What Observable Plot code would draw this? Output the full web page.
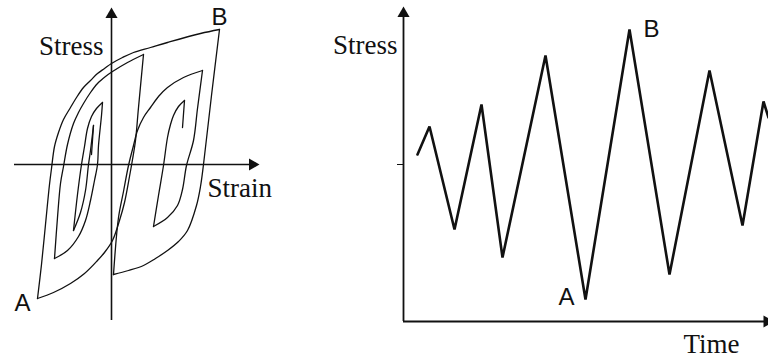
<!DOCTYPE html>
<html><head><meta charset="utf-8">
<script src="https://cdn.jsdelivr.net/npm/d3@7"></script>
<script src="https://cdn.jsdelivr.net/npm/@observablehq/plot@0.6"></script>
<style>
html,body{margin:0;padding:0;background:#fff;overflow:hidden}
#wrap{position:relative;width:768px;height:360px;overflow:hidden;background:#fff}
#left{position:absolute;left:0;top:0}
#right{position:absolute;left:300px;top:0}
</style></head>
<body><div id="wrap"><div id="left"></div><div id="right"></div></div>
<script>
// ---- Left panel: stress–strain hysteresis branches, [strain, stress] ----
const branchStart   = [[-20,10],[-18,39]];
const branchP1T1    = [[-18,39],[-21,14],[-23,0],[-26,-26],[-31,-48],[-38,-66]];
const branchT1P2    = [[-38,-66],[-34,-30],[-30,0],[-27,18],[-24,36],[-20,48],[-15,56],[-9,62]];
const branchP2T2    = [[-9,62],[-10,49],[-13,19],[-14,0],[-17,-16],[-21,-36],[-26,-56],[-33,-72],[-44,-86],[-57,-94]];
const branchT2P3    = [[-57,-94],[-54,-53],[-51,-19],[-48,-2],[-44,20],[-38,41],[-33,52],[-28,61],[-21,72],[-14,81],[-6,88],[1,93],[16,102],[32,110]];
const branchP3A     = [[32,110],[27,57],[24,24],[21,5],[18,-12],[13,-38],[8,-56],[1,-76],[-7,-88],[-14,-96],[-27,-109],[-41,-119],[-58,-128],[-74,-134]];
const branchAB      = [[-74,-134],[-70,-100],[-66,-60],[-62,-20],[-60,-4],[-57,18],[-53,32],[-48,45],[-41,57],[-35,67],[-28,77],[-21,84],[-14,91],[-7,96],[0,101],[11,107],[22,112],[39,117],[56,122],[89,131],[108,135]];
const branchBT4     = [[108,135],[100,69],[92,0],[89,-22],[85,-41],[76,-66],[67,-77],[56,-86],[44,-94],[32,-101],[17,-106],[2,-110]];
const branchT4P5    = [[2,-110],[7,-53],[12,-27],[17,-1],[22,19],[26,34],[32,47],[39,57],[47,68],[56,77],[72,87],[91,94]];
const branchP5T5    = [[91,94],[86,56],[82,24],[75,-1],[71,-25],[66,-41],[56,-53],[42,-62]];
const branchT5P6    = [[42,-62],[47,-31],[52,-1],[56,27],[59,40],[62,49],[67,58],[73,64]];
const branchP6End   = [[73,64],[71,37]];
const hystBranches = [branchStart, branchP1T1, branchT1P2, branchP2T2, branchT2P3, branchP3A,
                      branchAB, branchBT4, branchT4P5, branchP5T5, branchT5P6, branchP6End];

// ---- Right panel: stress history ----
const timeValues   = [14, 26, 51, 78, 99, 142, 182, 226, 266, 306, 339, 360, 365];
const stressValues = [10, 38, -65, 60, -93, 109, -135, 135, -110, 94, -61, 63, 47];

// ---- Labels ----
const leftAxisTitlesEnd   = [{x:-8, y:118, t:"Stress"}];
const leftAxisTitlesStart = [{x:96, y:-24, t:"Strain"}];
const leftPointLabels     = [{x:-97, y:-139, t:"A"}, {x:100, y:147, t:"B"}];
const rightAxisTitlesEnd   = [{x:-6, y:119, t:"Stress"}];
const rightAxisTitlesStart = [{x:280, y:-180, t:"Time"}];
const rightPointLabels     = [{x:155, y:-133, t:"A"}, {x:240, y:135, t:"B"}];

const SERIF = "'Liberation Serif','Times New Roman',Times,serif";
const SANS = "'Liberation Sans',Arial,Helvetica,sans-serif";

const hystRows = hystBranches.flatMap((b, i) => b.map(([strain, stress]) => ({strain, stress, branch: i})));
const histRows = timeValues.map((t, i) => ({t, s: stressValues[i]}));

function labelMarks(endTitles, startTitles, points) {
  return [
    Plot.text(endTitles, {x:"x", y:"y", text:"t", fontFamily: SERIF, fontSize: 27, textAnchor:"end", lineAnchor:"middle", fill:"#111"}),
    Plot.text(startTitles, {x:"x", y:"y", text:"t", fontFamily: SERIF, fontSize: 27, textAnchor:"start", lineAnchor:"middle", fill:"#111"}),
    Plot.text(points, {x:"x", y:"y", text:"t", fontFamily: SANS, fontSize: 24, textAnchor:"start", lineAnchor:"middle", fill:"#111"})
  ];
}

const left = Plot.plot({
  width: 300, height: 360,
  marginLeft: 11, marginRight: 29, marginTop: 4, marginBottom: 36,
  x: {domain: [-100, 160], axis: null},
  y: {domain: [-160, 160], axis: null},
  style: {background: "transparent", overflow: "visible"},
  marks: [
    Plot.ruleX([0], {y1: d => -156, y2: d => 150, stroke: "#111", strokeWidth: 1.6}),
    Plot.ruleY([0], {x1: d => -97, x2: d => 141, stroke: "#111", strokeWidth: 1.6}),
    Plot.dot([[0, 150]], {x: d => d[0], y: d => d[1], symbol: "triangle", r: 4.5, fill: "#111", stroke: null}),
    Plot.dot([[141, 0]], {x: d => d[0], y: d => d[1], symbol: "triangle", r: 4.5, fill: "#111", stroke: null, rotate: 90}),
    Plot.line(hystRows, {x: "strain", y: "stress", z: "branch", curve: "catmull-rom", stroke: "#111", strokeWidth: 1.3}),
    ...labelMarks(leftAxisTitlesEnd, leftAxisTitlesStart, leftPointLabels)
  ]
});
document.getElementById("left").appendChild(left);

const right = Plot.plot({
  width: 468, height: 360,
  marginLeft: 103, marginRight: 0, marginTop: 4, marginBottom: 36,
  x: {domain: [0, 365], axis: null},
  y: {domain: [-160, 160], axis: null},
  style: {background: "transparent", overflow: "visible"},
  marks: [
    Plot.ruleX([0], {y1: d => -157, y2: d => 151, stroke: "#111", strokeWidth: 1.8}),
    Plot.ruleY([-157], {x1: d => 0, x2: d => 363, stroke: "#111", strokeWidth: 1.8}),
    Plot.ruleY([0], {x1: d => -6, x2: d => 0, stroke: "#111", strokeWidth: 1}),
    Plot.dot([[0, 151]], {x: d => d[0], y: d => d[1], symbol: "triangle", r: 4.5, fill: "#111", stroke: null}),
    Plot.dot([[363.5, -157]], {x: d => d[0], y: d => d[1], symbol: "triangle", r: 4.5, fill: "#111", stroke: null, rotate: 90}),
    Plot.line(histRows, {x: "t", y: "s", stroke: "#111", strokeWidth: 2.6, strokeLinejoin: "miter"}),
    ...labelMarks(rightAxisTitlesEnd, rightAxisTitlesStart, rightPointLabels)
  ]
});
document.getElementById("right").appendChild(right);
</script>
</body></html>
